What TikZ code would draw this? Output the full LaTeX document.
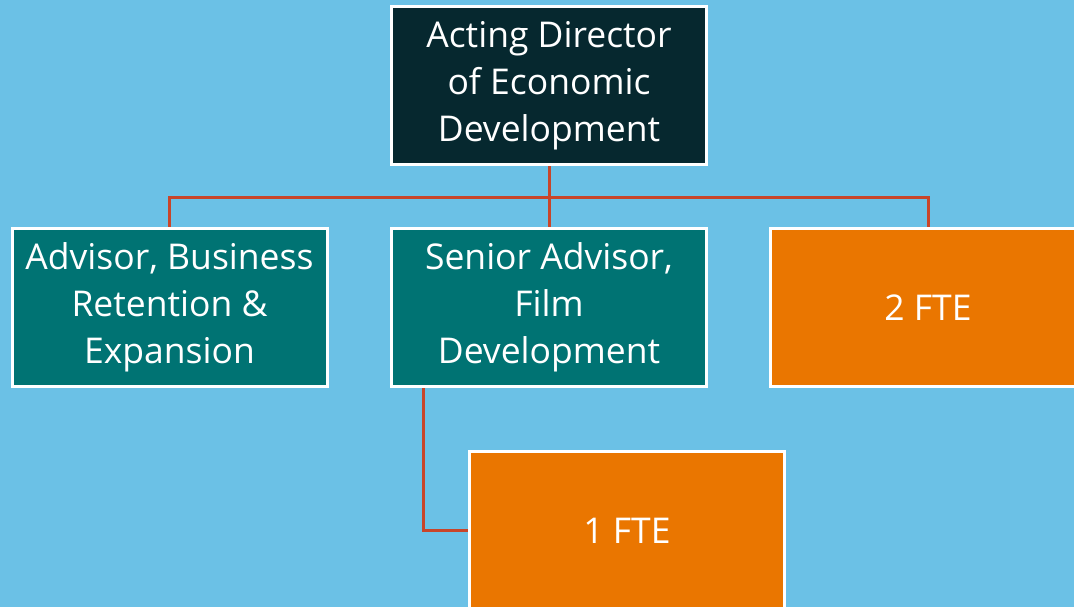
\documentclass[tikz,border=0pt]{standalone}
\usepackage{fontspec}
\setmainfont{Open Sans}
\usetikzlibrary{positioning}
\definecolor{skyback}{HTML}{6BC1E6}
\definecolor{headfill}{HTML}{06282F}
\definecolor{tealfill}{HTML}{007373}
\definecolor{fteorange}{HTML}{EA7600}
\definecolor{linkred}{HTML}{C8452A}
\begin{document}
\begin{tikzpicture}
        [x=1pt, y=-1pt,
        every node/.style={rectangle, draw=white, line width=2pt, text=white,
          minimum width=314pt, minimum height=157pt, inner sep=0pt,
          align=center, font=\fontsize{35.5}{47}\selectfont},
        headbox/.style={fill=headfill},
        rolebox/.style={fill=tealfill},
        ftebox/.style={fill=fteorange},
        link/.style={draw=linkred, line width=3pt},
        ]
        \useasboundingbox (0,0) rectangle (1074,607);
        \clip (0,0) rectangle (1074,607);
        \fill[skyback] (0,0) rectangle (1074,607);
        \coordinate (bus) at (549,197);
        \node[headbox] (director) at (549,85.5) {Acting Director\\of Economic\\Development};
        \node[rolebox] (retention) at (169.5,307.5) {Advisor, Business\\Retention \&\\Expansion};
        \node[rolebox] (film) at (549,307.5) {Senior Advisor,\\Film\\Development};
        \node[ftebox] (twofte) at (928,307.5) {2 FTE};
        \node[ftebox] (onefte) at (627,530.5) {1 FTE};
        \draw[link] (director.south) -- (bus);
        \draw[link] (retention.north) |- (bus) -| (twofte.north);
        \draw[link] (bus) -- (film.north);
        \draw[link] ([xshift=32pt]film.south west) |- (onefte.west);
        % redraw borders over the line ends
        \foreach \n in {director,retention,film,twofte,onefte}
          \draw[white, line width=2pt] (\n.north west) rectangle (\n.south east);
\end{tikzpicture}
\end{document}
